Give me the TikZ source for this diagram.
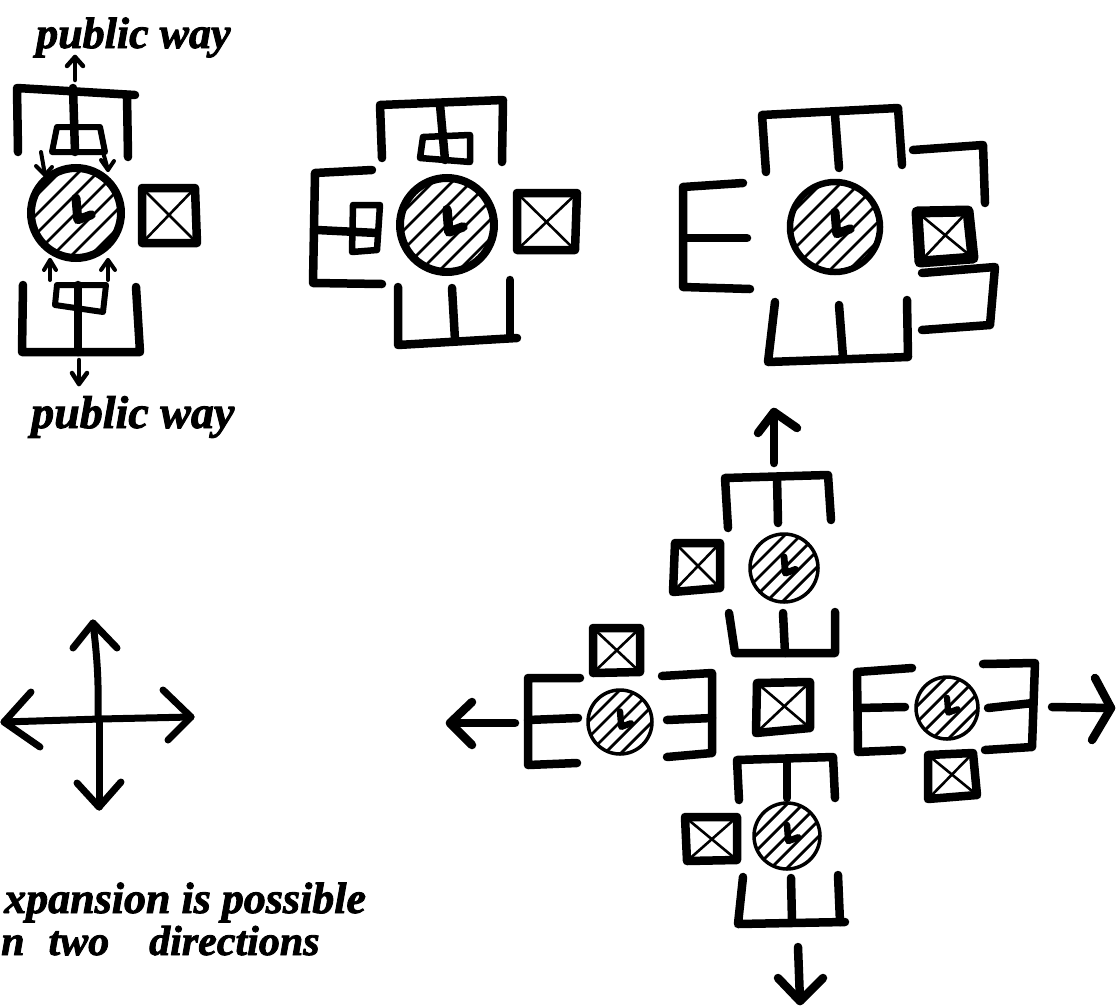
\documentclass[tikz,border=0pt]{standalone}
\usepackage{fontspec}
\newfontfamily\handfont{Liberation Serif}[BoldItalicFeatures={FakeBold=2}]
\tikzset{
    pen/.style={line width=#1pt, line cap=round, line join=round},
    pen/.default=8.5,
    hatch/.style={line width=2.8pt},
    lettering/.style={inner sep=0pt, anchor=base west, font=\handfont\fontsize{#1}{#1}\selectfont\bfseries\itshape}
}
% x, y, radius, rim width, hatch gap
\newcommand{\corecircle}[5]{
    \begin{scope}
        \clip (#1, #2) circle (#3);
        \foreach \k in {-4,...,4}
            \draw[hatch] ({#1+\k*#5-#3}, {#2+\k*#5+#3}) -- ({#1+\k*#5+#3}, {#2+\k*#5-#3});
    \end{scope}
    \draw[line width=#4pt] (#1, #2) circle (#3);
    \draw[pen=#3*0.2] ({#1}, {#2-0.33*#3}) -- ({#1+0.04*#3}, {#2+0.15*#3}) -- ({#1+0.34*#3}, {#2+0.04*#3});
}
% four corners of the box
\newcommand{\crossbox}[4]{
    \draw[pen] #1 -- #2 -- #3 -- #4 -- cycle;
    \draw[pen=2.6] #1 -- #3;
    \draw[pen=2.6] #2 -- #4;
}
% tail, tip, two barbs
\newcommand{\handarrow}[5][8.5]{
    \draw[pen=#1] #2 -- #3;
    \draw[pen=#1] #4 -- #3 -- #5;
}
\begin{document}
\begin{tikzpicture}[x=1pt, y=-1pt]
    \useasboundingbox (0, 0) rectangle (1116, 1007);

    % first plan
    \node[lettering=44] (pubtop) at(36, 48){public way};
    \handarrow[4.5]{(75, 80)}{(75, 57)}{(67, 66)}{(83, 66)}
    \draw[pen] (18, 152) -- (17, 88) -- (135, 95);
    \draw[pen] (73, 88) -- (75, 152);
    \draw[pen] (127, 95) -- (128, 157);
    \draw[pen=6] (57, 127) -- (100, 127) -- (105, 152) -- (52, 152) -- cycle;
    \handarrow[4]{(41, 152)}{(45, 175)}{(36, 166)}{(52, 167)}
    \handarrow[4]{(103, 152)}{(108, 170)}{(101, 160)}{(114, 161)}
    \corecircle{76}{213}{45}{8}{9.5}
    \crossbox{(142, 188)}{(195, 188)}{(197, 243)}{(142, 243)}
    \handarrow[4]{(50, 280)}{(50, 260)}{(44, 270)}{(56, 270)}
    \handarrow[4]{(108, 280)}{(108, 260)}{(101, 270)}{(115, 270)}
    \draw[pen=6] (57, 285) -- (106, 285) -- (103, 312) -- (55, 305) -- cycle;
    \draw[pen] (23, 285) -- (22, 352) -- (140, 352) -- (136, 287);
    \draw[pen] (78, 285) -- (78, 352);
    \handarrow[4.5]{(79, 360)}{(79, 384)}{(72, 373)}{(87, 373)}
    \node[lettering=46] (pubbot) at(31, 428){public way};

    % second plan
    \draw[pen] (382, 158) -- (380, 105) -- (503, 100) -- (502, 162);
    \draw[pen] (440, 105) -- (445, 160);
    \draw[pen=6.5] (423, 137) -- (470, 135) -- (470, 162) -- (420, 158) -- cycle;
    \draw[pen] (372, 170) -- (315, 173) -- (313, 283) -- (382, 284);
    \draw[pen] (317, 230) -- (377, 233);
    \draw[pen=6.5] (353, 205) -- (380, 205) -- (377, 250) -- (352, 252) -- cycle;
    \corecircle{447}{225}{47}{8}{9.5}
    \crossbox{(517, 193)}{(577, 193)}{(575, 250)}{(517, 250)}
    \draw[pen] (398, 287) -- (398, 345) -- (517, 338);
    \draw[pen] (452, 288) -- (455, 340);
    \draw[pen] (510, 280) -- (510, 337);

    % third plan
    \draw[pen] (766, 172) -- (762, 115) -- (898, 108) -- (902, 165);
    \draw[pen] (835, 115) -- (839, 168);
    \draw[pen] (913, 150) -- (983, 145) -- (985, 203);
    \draw[pen=11] (917, 212) -- (968, 211) -- (973, 258) -- (920, 262) -- cycle;
    \draw[pen=2.6] (917, 212) -- (973, 258);
    \draw[pen=2.6] (968, 211) -- (920, 262);
    \draw[pen] (922, 273) -- (995, 267) -- (990, 325) -- (922, 330);
    \draw[pen] (743, 183) -- (683, 187) -- (683, 287) -- (750, 289);
    \draw[pen] (685, 238) -- (747, 238);
    \corecircle{835}{227}{45}{6.5}{9.5}
    \draw[pen] (775, 302) -- (768, 362) -- (908, 357) -- (907, 300);
    \draw[pen] (839, 305) -- (843, 357);

    % cross of directions
    \draw[pen=7] (98, 720) to[bend right=4] (93, 623);
    \draw[pen=7] (73, 648) -- (93, 623) -- (117, 648);
    \handarrow[7]{(99, 720)}{(99, 807)}{(77, 783)}{(121, 782)}
    \handarrow[7]{(100, 719)}{(4, 722)}{(31, 692)}{(40, 747)}
    \handarrow[7]{(100, 719)}{(191, 717)}{(163, 690)}{(168, 740)}
    \node[lettering=44] (expansion) at(4, 913){xpansion is possible};
    \node[lettering=42] (directions) at(1, 955){n\hspace{24pt}two\hspace{40pt}directions};

    % cluster, upper unit
    \handarrow{(774, 463)}{(774, 412)}{(758, 433)}{(797, 428)}
    \draw[pen] (728, 528) -- (725, 478) -- (828, 475) -- (831, 520);
    \draw[pen] (777, 477) -- (778, 523);
    \crossbox{(675, 543)}{(720, 543)}{(720, 588)}{(673, 592)}
    \corecircle{784}{568}{34}{3.5}{8}
    \draw[pen] (729, 613) -- (735, 653) -- (835, 653) -- (835, 612);
    \draw[pen] (783, 613) -- (785, 653);

    % cluster, left unit
    \handarrow{(515, 723)}{(450, 723)}{(472, 702)}{(472, 745)}
    \draw[pen] (580, 678) -- (528, 678) -- (528, 765) -- (577, 763);
    \draw[pen] (528, 720) -- (578, 718);
    \crossbox{(593, 628)}{(640, 628)}{(640, 672)}{(593, 673)}
    \corecircle{620}{722}{32}{3.5}{8}
    \draw[pen] (662, 676) -- (712, 673) -- (712, 753) -- (667, 757);
    \draw[pen] (667, 720) -- (712, 718);

    % cluster, middle box
    \crossbox{(757, 683)}{(810, 682)}{(810, 728)}{(756, 733)}

    % cluster, right unit
    \draw[pen] (912, 668) -- (857, 672) -- (858, 752) -- (902, 750);
    \draw[pen] (858, 708) -- (905, 707);
    \corecircle{947}{708}{31}{3.5}{8}
    \draw[pen] (983, 664) -- (1035, 663) -- (1032, 747) -- (985, 750);
    \draw[pen] (988, 708) -- (1033, 703);
    \handarrow{(1052, 707)}{(1111, 708)}{(1095, 678)}{(1092, 740)}
    \crossbox{(928, 755)}{(973, 753)}{(977, 795)}{(928, 799)}

    % cluster, lower unit
    \draw[pen] (739, 800) -- (737, 760) -- (833, 757) -- (835, 798);
    \draw[pen] (787, 760) -- (787, 798);
    \crossbox{(685, 817)}{(737, 817)}{(737, 860)}{(687, 861)}
    \corecircle{787}{836}{33}{3.5}{8}
    \draw[pen] (743, 877) -- (738, 924) -- (845, 922);
    \draw[pen] (791, 878) -- (792, 922);
    \draw[pen] (838, 875) -- (840, 922);
    \handarrow{(798, 947)}{(800, 1001)}{(778, 978)}{(823, 978)}
\end{tikzpicture}
\end{document}
